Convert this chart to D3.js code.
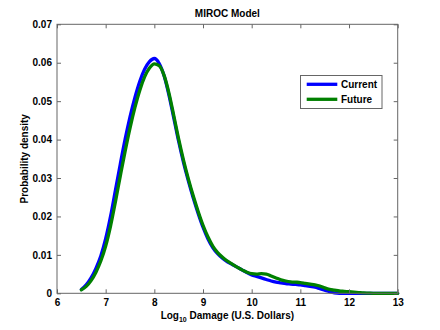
<!DOCTYPE html>
<html>
<head>
<meta charset="utf-8">
<script src="https://cdn.jsdelivr.net/npm/d3@7"></script>
<style>
  html, body { margin: 0; padding: 0; background: #fff; }
  svg { display: block; }
  text { font-family: Arial, "Liberation Sans", sans-serif; font-weight: bold; fill: #000; }
</style>
</head>
<body>
<svg id="chart" width="440" height="330"></svg>
<script>
// Log10 damage grid (U.S. dollars)
const logDamage = [
  6.5, 6.6, 6.7, 6.8, 6.9, 7.0, 7.1, 7.2, 7.3, 7.4, 7.5, 7.6, 7.7, 7.8, 7.9,
  8.0, 8.1, 8.2, 8.3, 8.4, 8.5, 8.6, 8.7, 8.8, 8.9, 9.0, 9.1, 9.2, 9.3, 9.4,
  9.5, 9.6, 9.7, 9.8, 9.9, 10.0, 10.1, 10.2, 10.3, 10.4, 10.5, 10.6, 10.7, 10.8, 10.9,
  11.0, 11.1, 11.2, 11.3, 11.4, 11.5, 11.6, 11.7, 11.8, 11.9, 12.0, 12.1, 12.2, 12.3, 12.4,
  12.5, 12.6, 12.7, 12.8, 12.9, 13.0
];

// Probability density, current climate
const currentDensity = [
  0.0010, 0.0022, 0.0040, 0.0065, 0.0097, 0.0142, 0.0200, 0.0268, 0.0336, 0.0401, 0.0459, 0.0509, 0.0551, 0.0583, 0.0603,
  0.0611, 0.0598, 0.0566, 0.0516, 0.0456, 0.0395, 0.0340, 0.0292, 0.0248, 0.0208, 0.0172, 0.0142, 0.0119, 0.0103, 0.0091,
  0.0082, 0.0075, 0.0068, 0.0061, 0.0054, 0.0048, 0.0044, 0.0040, 0.0036, 0.0032, 0.0029, 0.0027, 0.0025, 0.0024, 0.0023,
  0.0022, 0.0020, 0.0018, 0.0016, 0.0012, 0.0008, 0.0004, 0.0001, 0.0000, 0.0000, 0.0000, 0.0000, 0.0000, 0.0000, 0.0000,
  0.0000, 0.0000, 0.0000, 0.0000, 0.0000, 0.0000
];

// Probability density, future climate
const futureDensity = [
  0.0009, 0.0018, 0.0033, 0.0055, 0.0084, 0.0123, 0.0175, 0.0238, 0.0305, 0.0370, 0.0430, 0.0483, 0.0528, 0.0563, 0.0586,
  0.0597, 0.0592, 0.0567, 0.0521, 0.0462, 0.0401, 0.0346, 0.0297, 0.0253, 0.0213, 0.0177, 0.0147, 0.0123, 0.0106, 0.0094,
  0.0084, 0.0076, 0.0068, 0.0061, 0.0055, 0.0051, 0.0050, 0.0051, 0.0050, 0.0045, 0.0040, 0.0035, 0.0032, 0.0030, 0.0029,
  0.0028, 0.0026, 0.0024, 0.0022, 0.0019, 0.0014, 0.0010, 0.0008, 0.0006, 0.0005, 0.0004, 0.0003, 0.0002, 0.0001, 0.00005,
  0.0000, 0.0000, 0.0000, 0.0000, 0.0000, 0.0000
];

const xTicks = [6, 7, 8, 9, 10, 11, 12, 13];
const yTicks = [0, 0.01, 0.02, 0.03, 0.04, 0.05, 0.06, 0.07];

const seriesNames = ["Current", "Future"];
const seriesColors = ["#0000ff", "#008000"];

const svg = d3.select("#chart");
const plotLeft = 57, plotRight = 397.7, plotTop = 24.3, plotBottom = 293.3;

const x = d3.scaleLinear().domain([6, 13]).range([plotLeft, plotRight]);
const y = d3.scaleLinear().domain([0, 0.07]).range([plotBottom, plotTop]);

const frameColor = "#666666";
const tickLen = 4;

// Density curves
const series = [currentDensity, futureDensity].map((vals, i) => ({
  name: seriesNames[i],
  color: seriesColors[i],
  points: logDamage.map((d, j) => [d, vals[j]])
}));

const line = d3.line()
  .x(d => x(d[0]))
  .y(d => y(d[1]))
  .curve(d3.curveMonotoneX);

svg.append("g")
  .selectAll("path")
  .data(series)
  .join("path")
  .attr("d", d => line(d.points))
  .attr("fill", "none")
  .attr("stroke", d => d.color)
  .attr("stroke-width", 3.3)
  .attr("stroke-linejoin", "round")
  .attr("stroke-linecap", "round");

// Axes: ticks point inward on all four sides
const fmtY = d => d === 0 ? "0" : d3.format(".2f")(d);

const xBottom = svg.append("g")
  .attr("transform", `translate(0,${plotBottom})`)
  .call(d3.axisBottom(x).tickValues(xTicks).tickSizeInner(-tickLen).tickSizeOuter(0).tickPadding(6).tickFormat(d3.format("d")));
const xTop = svg.append("g")
  .attr("transform", `translate(0,${plotTop})`)
  .call(d3.axisTop(x).tickValues(xTicks).tickSizeInner(-tickLen).tickSizeOuter(0).tickFormat(""));
const yLeft = svg.append("g")
  .attr("transform", `translate(${plotLeft},0)`)
  .call(d3.axisLeft(y).tickValues(yTicks).tickSizeInner(-tickLen).tickSizeOuter(0).tickPadding(5).tickFormat(fmtY));
const yRight = svg.append("g")
  .attr("transform", `translate(${plotRight},0)`)
  .call(d3.axisRight(y).tickValues(yTicks).tickSizeInner(-tickLen).tickSizeOuter(0).tickFormat(""));

[xBottom, xTop, yLeft, yRight].forEach(g => {
  g.select(".domain").remove();
  g.selectAll(".tick line").attr("stroke", frameColor);
  g.selectAll(".tick text")
    .attr("font-size", 10)
    .attr("font-weight", "bold")
    .attr("fill", "#000")
    .attr("font-family", "Arial, 'Liberation Sans', sans-serif");
});

// Plot frame
svg.append("rect")
  .attr("x", plotLeft).attr("y", plotTop)
  .attr("width", plotRight - plotLeft).attr("height", plotBottom - plotTop)
  .attr("fill", "none")
  .attr("stroke", frameColor)
  .attr("stroke-width", 1);

// Title
svg.append("text")
  .attr("x", (plotLeft + plotRight) / 2).attr("y", 17)
  .attr("text-anchor", "middle")
  .attr("font-size", 10)
  .text("MIROC Model");

// X axis label with subscript
const xl = svg.append("text")
  .attr("x", (plotLeft + plotRight) / 2).attr("y", 319)
  .attr("text-anchor", "middle")
  .attr("font-size", 10);
xl.append("tspan").text("Log");
xl.append("tspan").attr("font-size", 7).attr("dy", 3).text("10");
xl.append("tspan").attr("dy", -3).text(" Damage (U.S. Dollars)");

// Y axis label
svg.append("text")
  .attr("transform", `translate(27.5,${(plotTop + plotBottom) / 2}) rotate(-90)`)
  .attr("text-anchor", "middle")
  .attr("font-size", 10)
  .text("Probability density");

// Legend
const legend = svg.append("g");
legend.append("rect")
  .attr("x", 300.5).attr("y", 75.5)
  .attr("width", 81.5).attr("height", 33)
  .attr("fill", "#fff")
  .attr("stroke", frameColor)
  .attr("stroke-width", 1);

const items = legend.selectAll("g.item")
  .data(series)
  .join("g")
  .attr("class", "item")
  .attr("transform", (d, i) => `translate(0,${84.3 + i * 15})`);
items.append("line")
  .attr("x1", 306.7).attr("x2", 337.3)
  .attr("y1", 0).attr("y2", 0)
  .attr("stroke", d => d.color)
  .attr("stroke-width", 3.3);
items.append("text")
  .attr("x", 341).attr("y", 3.6)
  .attr("font-size", 10)
  .text(d => d.name);
</script>
</body>
</html>
